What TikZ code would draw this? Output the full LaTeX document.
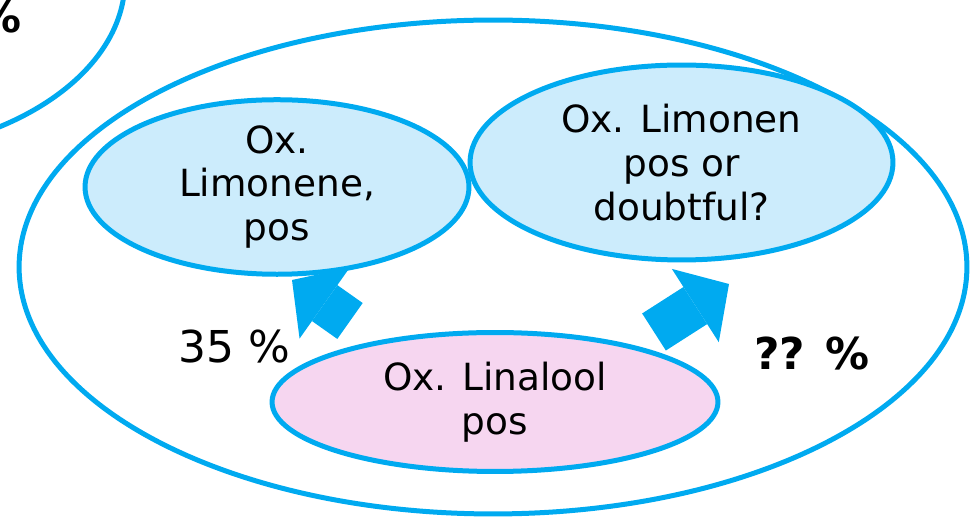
\documentclass[tikz,border=0pt]{standalone}
\usepackage{fontspec}
\setmainfont{DejaVu Sans}
\usepackage{xcolor}
\usetikzlibrary{shapes.geometric, arrows.meta}

\definecolor{bordo}{RGB}{0,170,240}
\definecolor{azzurro}{RGB}{204,236,252}
\definecolor{rosa}{RGB}{246,214,240}

\begin{document}
\begin{tikzpicture}[x=0.02cm, y=-0.02cm,
    insieme/.style={ellipse, draw=bordo, line width=0.1cm, inner sep=0pt},
    gruppo/.style={insieme, align=center, font=\fontsize{21.3}{25}\selectfont},
    freccia/.style={bordo, line width=0.88cm,
        -{Triangle[length=0.8cm, width=1.74cm, line width=0pt]}},
    perc/.style={font=\fontsize{25}{30}\selectfont}]

    % Riquadro fisso
    \useasboundingbox (0,0) rectangle (974,519);

    % Insiemi esterni (quello in alto a sinistra esce dal riquadro)
    \node[insieme, minimum width=11cm, minimum height=7cm] (altro) at (-150,-20) {};
    \node[insieme, minimum width=18.96cm, minimum height=9.88cm] (esterno) at (493,267) {};

    % Insiemi interni
    \node[gruppo, fill=azzurro, minimum width=7.68cm, minimum height=3cm]
        (limA) at (277,187) {Ox.\\Limonene,\\pos};
    \node[gruppo, fill=azzurro, minimum width=8.46cm, minimum height=3.9cm]
        (limB) at (681.5,162.5) {Ox. Limonen\\pos or\\doubtful?};
    \node[gruppo, fill=rosa, minimum width=8.92cm, minimum height=2.78cm]
        (lin) at (495,402) {Ox. Linalool\\pos};

    % Frecce a blocco
    \coordinate (codaA) at (350,321);
    \coordinate (puntaA) at (292,280);
    \coordinate (codaB) at (654,332);
    \coordinate (puntaB) at (729,284);
    \draw[freccia] (codaA) -- (puntaA);
    \draw[freccia] (codaB) -- (puntaB);

    % Percentuali
    \node[perc, anchor=base] (pA) at (234,363) {35 \%};
    \node[perc, anchor=base] (pB) at (812,370) {\bfseries ?? \%};
    \node[perc, anchor=base east] (pC) at (28,33) {\bfseries \%};

\end{tikzpicture}
\end{document}
